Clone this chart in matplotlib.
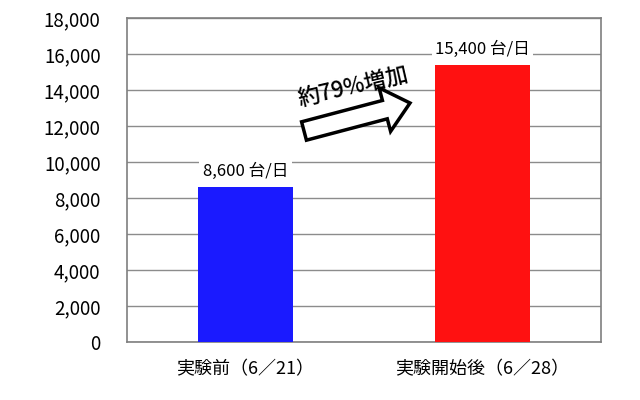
import matplotlib
matplotlib.use("Agg")
import matplotlib.pyplot as plt
from matplotlib.patches import FancyArrow
import numpy as np

plt.rcParams['font.family'] = ['Noto Sans CJK JP', 'DejaVu Sans']

categories = ["実験前（6／21）", "実験開始後（6／28）"]
values = [8600, 15400]
value_labels = ["8,600 台/日", "15,400 台/日"]
colors = ["#1a1aff", "#ff1111"]
yticks = [0, 2000, 4000, 6000, 8000, 10000, 12000, 14000, 16000, 18000]
ytick_labels = ["0", "2,000", "4,000", "6,000", "8,000", "10,000", "12,000", "14,000", "16,000", "18,000"]
increase_text = "約79%増加"

fig = plt.figure(figsize=(6.4, 4.0), dpi=100)
ax = fig.add_axes([127/640, 1-342/400, (601-127)/640, (342-18)/400])

x = np.arange(len(categories))
ax.bar(x, values, width=0.4, color=colors, zorder=3)
ax.set_xlim(-0.5, 1.5)
ax.set_ylim(0, 18000)
ax.set_yticks(yticks)
ax.set_yticklabels(ytick_labels, fontsize=13.5)
ax.set_xticks(x)
ax.set_xticklabels(categories, fontsize=13)
ax.tick_params(axis='y', length=0, pad=19)
ax.tick_params(axis='x', length=0, pad=13)
ax.yaxis.grid(True, color="#8c8c8c", linewidth=1.0, zorder=0)
for s in ax.spines.values():
    s.set_color("#7f7f7f")
    s.set_linewidth(1.2)

for xi, v, lab in zip(x, values, value_labels):
    ax.annotate(lab, (xi, v), xytext=(0, 5), textcoords='offset points',
                ha='center', va='bottom', fontsize=12, zorder=5,
                bbox=dict(boxstyle='square,pad=0.2', fc='white', ec='none'))

# block arrow (in figure inches)
tail = (304/100, (400-131)/100)
tip = (410/100, (400-103)/100)
dx, dy = tip[0]-tail[0], tip[1]-tail[1]
arr = FancyArrow(tail[0], tail[1], dx, dy, width=0.19, head_width=0.45,
                 head_length=0.26, length_includes_head=True,
                 transform=fig.dpi_scale_trans, facecolor='white',
                 edgecolor='black', linewidth=2.5, zorder=10)
fig.patches.append(arr)
fig.text(353/640, 1-88/400, increase_text, rotation=13, ha='center', va='center',
         fontsize=16, fontweight='medium', zorder=11)

fig.savefig("out.png", dpi=100, facecolor='white')
